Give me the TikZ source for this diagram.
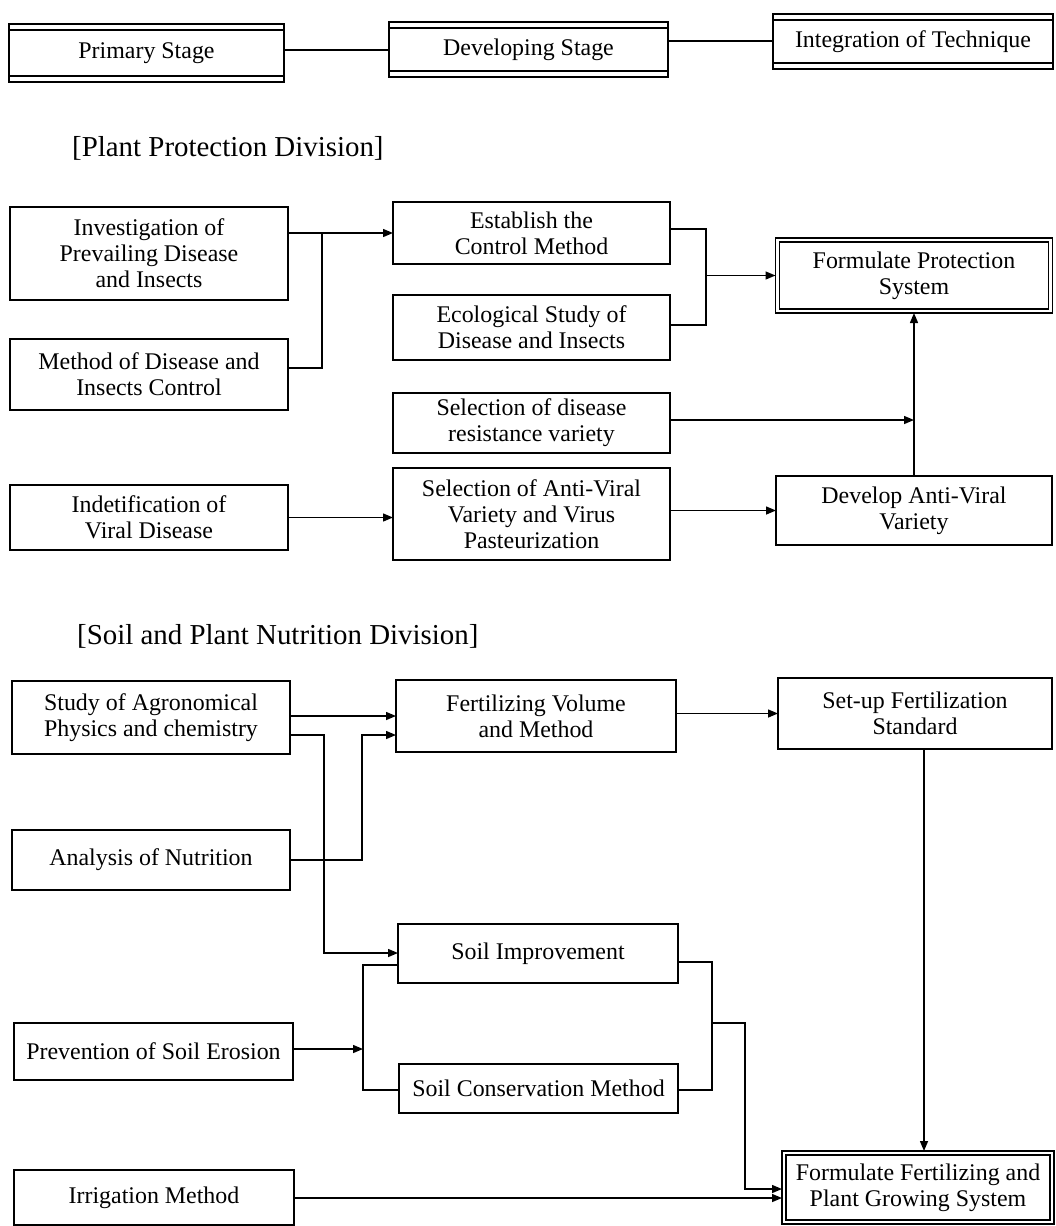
\documentclass[tikz,border=0pt]{standalone}
\usepackage{fontspec}
\setmainfont{Liberation Serif}
\usetikzlibrary{arrows.meta}
\newcommand\bxf{\fontsize{24}{26}\selectfont}
\newcommand\ttf{\fontsize{29}{33}\selectfont}
\begin{document}
\begin{tikzpicture}[x=1bp,y=-1bp,
  box/.style={draw, line width=1.6bp, align=center, inner sep=0pt, outer sep=0pt, font=\bxf},
  conn/.style={line width=1.4bp},
  arr/.style={conn, -{Triangle[length=10bp,width=8bp]}},
  inner/.style={line width=1.2bp}]
\useasboundingbox (0,0) rectangle (1056,1226);

% ---------- stages ----------
\node[box, minimum width=275bp, minimum height=58bp] (ps) at (146.5,53) {Primary Stage};
\node[box, minimum width=279bp, minimum height=55bp] (ds) at (528.5,49.5) {Developing Stage};
\node[box, minimum width=280bp, minimum height=55bp] (it) at (913,41.5) {Integration of Technique};
\foreach \n in {ps,ds,it}{
  \draw[inner] ([yshift=-6bp]\n.north west) -- ([yshift=-6bp]\n.north east);
  \draw[inner] ([yshift=6bp]\n.south west) -- ([yshift=6bp]\n.south east);
}
\coordinate (s1) at (0,50);
\coordinate (s2) at (0,41);
\draw[conn] (ps.east |- s1) -- (ds.west |- s1);
\draw[conn] (ds.east |- s2) -- (it.west |- s2);

% ---------- Plant Protection ----------
\node[anchor=west, font=\ttf, inner sep=0pt] (t1) at (72,148) {[Plant Protection Division]};

\node[box, minimum width=278bp, minimum height=93bp] (inv) at (149,253.5) {Investigation of\\Prevailing Disease\\and Insects};
\node[box, minimum width=278bp, minimum height=71bp] (meth) at (149,374.5) {Method of Disease and\\Insects Control};
\node[box, minimum width=278bp, minimum height=65bp] (ind) at (149,517.5) {Indetification of\\Viral Disease};
\node[box, minimum width=277bp, minimum height=62bp] (est) at (531.5,233) {Establish the\\Control Method};
\node[box, minimum width=277bp, minimum height=65bp] (eco) at (531.5,327.5) {Ecological Study of\\Disease and Insects};
\node[box, minimum width=277bp, minimum height=60bp] (sel) at (531.5,423) {Selection of disease\\resistance variety};
\node[box, minimum width=277bp, minimum height=92bp] (anti) at (531.5,514) {Selection of Anti-Viral\\Variety and Virus\\Pasteurization};
\node[box, minimum width=277bp, minimum height=75bp] (fps) at (914,275.5) {Formulate Protection\\System};
\draw[inner] ([shift={(4bp,-4bp)}]fps.north west) rectangle ([shift={(-4bp,4bp)}]fps.south east);
\node[box, minimum width=276bp, minimum height=69bp] (dav) at (914,510.5) {Develop Anti-Viral\\Variety};

\coordinate (j1) at (322,233);
\coordinate (j1b) at (322,368);
\draw[arr] (inv.east |- j1) -- (est.west |- j1);
\draw[conn] (meth.east |- j1b) -- (j1b) -- (j1);

\coordinate (j2t) at (706,229);
\coordinate (j2b) at (706,325);
\coordinate (j2m) at (706,275.5);
\draw[conn] (est.east |- j2t) -- (j2t) -- (j2b) -- (eco.east |- j2b);
\draw[arr] (j2m) -- (fps.west |- j2m);

\coordinate (j3) at (914,420);
\draw[arr] (sel.east |- j3) -- (j3);
\draw[arr] (dav.north) -- (fps.south);
\draw[arr] (anti.east |- dav.west) -- (dav.west);
\draw[arr] (ind.east) -- (ind.east -| anti.west);

% ---------- Soil and Plant Nutrition ----------
\node[anchor=west, font=\ttf, inner sep=0pt] (t2) at (77,636) {[Soil and Plant Nutrition Division]};

\node[box, minimum width=278bp, minimum height=73bp] (study) at (151,717.5) {Study of Agronomical\\Physics and chemistry};
\node[box, minimum width=278bp, minimum height=60bp] (anal) at (151,860) {Analysis of Nutrition};
\node[box, minimum width=279bp, minimum height=57bp] (prev) at (153.5,1051.5) {Prevention of Soil Erosion};
\node[box, minimum width=280bp, minimum height=55bp] (irr) at (154,1197.5) {Irrigation Method};
\node[box, minimum width=280bp, minimum height=72bp] (fert) at (536,716) {Fertilizing Volume\\and Method};
\node[box, minimum width=274bp, minimum height=71bp] (setup) at (915,713.5) {Set-up Fertilization\\Standard};
\node[box, minimum width=280bp, minimum height=59bp] (simp) at (538,953.5) {Soil Improvement};
\node[box, minimum width=279bp, minimum height=49bp] (scons) at (538.5,1088.5) {Soil Conservation Method};
\node[box, minimum width=272bp, minimum height=73bp] (ffs) at (918,1187.5) {Formulate Fertilizing and\\Plant Growing System};
\draw[inner] ([shift={(4bp,-4bp)}]ffs.north west) rectangle ([shift={(-4bp,4bp)}]ffs.south east);

\draw[arr] (study.east |- fert.west) -- (fert.west);
\coordinate (k1) at (324,735);
\coordinate (k2) at (324,953);
\draw[arr] (study.east |- k1) -- (k1) -- (k2) -- (simp.west |- k2);
\coordinate (k3) at (362,860);
\coordinate (k4) at (362,735);
\draw[arr] (anal.east |- k3) -- (k3) -- (k4) -- (fert.west |- k4);
\draw[arr] (fert.east |- setup.west) -- (setup.west);
\coordinate (kv) at (924,0);
\draw[arr] (setup.south -| kv) -- (ffs.north -| kv);

\coordinate (m1) at (363,965);
\coordinate (m2) at (363,1090);
\coordinate (m3) at (363,1049);
\draw[conn] (simp.west |- m1) -- (m1) -- (m2) -- (scons.west |- m2);
\draw[arr] (prev.east |- m3) -- (m3);

\coordinate (n1) at (712,962);
\coordinate (n2) at (712,1090);
\coordinate (n3) at (712,1023);
\coordinate (n4) at (745,1023);
\coordinate (n5) at (745,1189);
\coordinate (n6) at (0,1198);
\draw[conn] (simp.east |- n1) -- (n1) -- (n2) -- (scons.east |- n2);
\draw[arr] (n3) -- (n4) -- (n5) -- (ffs.west |- n5);
\draw[arr] (irr.east |- n6) -- (ffs.west |- n6);
\end{tikzpicture}
\end{document}
